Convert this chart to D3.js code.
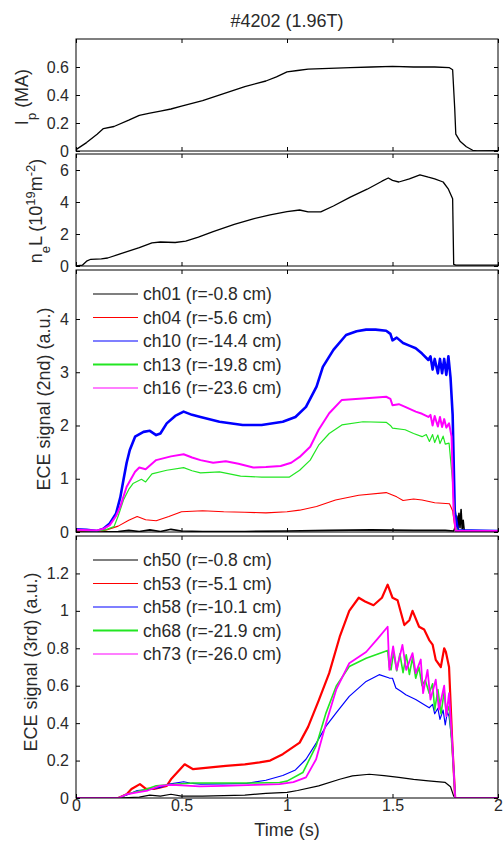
<!DOCTYPE html>
<html>
<head>
<meta charset="utf-8">
<script src="https://cdn.jsdelivr.net/npm/d3@7"></script>
<style>
  body { margin: 0; background: #fff; }
  svg { font-family: "Liberation Sans", Arial, sans-serif; }
</style>
</head>
<body>
<svg id="chart" width="503" height="845"></svg>
<script>
// ---- data: [time (s), value] ----
const ip = [[0,0.01],[0.05,0.06],[0.1,0.12],[0.13,0.16],[0.18,0.175],[0.25,0.22],[0.3,0.255],[0.35,0.27],
  [0.4,0.285],[0.45,0.3],[0.5,0.32],[0.6,0.36],[0.7,0.41],[0.8,0.46],[0.9,0.5],[0.95,0.53],[1.0,0.565],
  [1.05,0.575],[1.1,0.585],[1.2,0.59],[1.3,0.595],[1.4,0.6],[1.5,0.605],[1.6,0.6],[1.7,0.6],[1.77,0.595],
  [1.785,0.58],[1.795,0.3],[1.8,0.12],[1.82,0.07],[1.85,0.03],[1.88,0.005],[1.9,0],[2.0,0.003]];

const neL = [[0,0],[0.03,0.05],[0.05,0.3],[0.07,0.42],[0.12,0.45],[0.15,0.5],[0.22,0.8],[0.3,1.15],
  [0.36,1.45],[0.4,1.5],[0.47,1.47],[0.52,1.55],[0.58,1.8],[0.65,2.15],[0.75,2.6],[0.84,2.95],[0.92,3.2],
  [1.0,3.4],[1.06,3.5],[1.1,3.38],[1.16,3.38],[1.22,3.75],[1.3,4.3],[1.38,4.8],[1.45,5.3],[1.48,5.5],
  [1.5,5.35],[1.53,5.25],[1.58,5.45],[1.63,5.7],[1.67,5.55],[1.7,5.45],[1.74,5.25],[1.765,4.8],
  [1.785,4.2],[1.79,0.1],[1.8,0.05],[2.0,0.05]];

// ECE 2nd harmonic
const ch01 = [[0,0],[0.1,0],[0.2,0.01],[0.25,0.03],[0.3,0.01],[0.35,0.04],[0.4,0.01],[0.45,0.05],[0.5,0.02],
  [0.6,0.01],[0.8,0.01],[1.0,0.02],[1.2,0.03],[1.4,0.04],[1.6,0.03],[1.75,0.03],[1.79,0.02],[1.8,0.12],
  [1.805,0.3],[1.81,0.05],[1.815,0.35],[1.82,0.08],[1.825,0.42],[1.83,0.06],[1.835,0.22],[1.84,0.02],
  [1.9,0],[2.0,0]];
const ch04 = [[0,0],[0.1,0],[0.145,0.04],[0.2,0.11],[0.25,0.22],[0.29,0.29],[0.33,0.23],[0.38,0.21],
  [0.44,0.29],[0.5,0.38],[0.6,0.4],[0.7,0.38],[0.8,0.37],[0.9,0.36],[1.0,0.38],[1.06,0.41],[1.14,0.48],
  [1.23,0.6],[1.34,0.69],[1.47,0.74],[1.52,0.66],[1.55,0.59],[1.6,0.62],[1.64,0.6],[1.7,0.55],[1.77,0.53],
  [1.785,0.4],[1.795,0.1],[1.8,0],[2.0,0]];
const ch10 = [[0,0.05],[0.05,0.04],[0.1,0.02],[0.13,0.06],[0.16,0.16],[0.19,0.35],[0.21,0.65],[0.225,0.98],
  [0.24,1.3],[0.255,1.54],[0.28,1.79],[0.32,1.88],[0.35,1.9],[0.38,1.82],[0.4,1.85],[0.43,2.04],[0.47,2.18],
  [0.51,2.26],[0.55,2.2],[0.59,2.16],[0.68,2.07],[0.79,2.01],[0.88,2.01],[0.98,2.07],[1.04,2.16],[1.09,2.35],
  [1.14,2.73],[1.17,3.1],[1.22,3.42],[1.28,3.7],[1.33,3.77],[1.375,3.8],[1.42,3.8],[1.47,3.78],[1.49,3.72],
  [1.5,3.6],[1.52,3.65],[1.55,3.55],[1.58,3.5],[1.61,3.45],[1.64,3.35],[1.67,3.23],[1.68,3.3],[1.69,3.05],
  [1.7,3.25],[1.715,2.98],[1.725,3.25],[1.735,2.98],[1.745,3.25],[1.755,2.95],[1.765,3.3],[1.775,2.9],
  [1.785,2.2],[1.795,0.4],[1.81,0.03],[2.0,0.02]];
const ch13 = [[0,0.03],[0.1,0.02],[0.14,0.04],[0.18,0.1],[0.2,0.3],[0.225,0.6],[0.25,0.8],[0.27,0.91],
  [0.31,0.99],[0.33,0.94],[0.36,1.09],[0.43,1.16],[0.51,1.21],[0.55,1.15],[0.59,1.11],[0.68,1.13],[0.78,1.05],
  [0.88,1.03],[1.01,1.03],[1.06,1.16],[1.11,1.35],[1.15,1.63],[1.2,1.85],[1.26,2.01],[1.36,2.07],[1.47,2.06],
  [1.49,2.0],[1.5,1.95],[1.56,1.92],[1.6,1.85],[1.64,1.79],[1.66,1.83],[1.675,1.7],[1.69,1.83],[1.7,1.68],
  [1.715,1.82],[1.725,1.66],[1.74,1.8],[1.75,1.65],[1.768,1.67],[1.784,0.98],[1.797,0.1],[1.81,0.02],[2.0,0.02]];
const ch16 = [[0,0.04],[0.1,0.03],[0.13,0.06],[0.16,0.13],[0.19,0.3],[0.21,0.48],[0.24,0.85],[0.28,1.13],
  [0.3,1.21],[0.33,1.18],[0.38,1.35],[0.45,1.42],[0.51,1.46],[0.55,1.4],[0.59,1.35],[0.65,1.3],[0.71,1.33],
  [0.77,1.28],[0.84,1.21],[0.9,1.22],[0.97,1.24],[1.02,1.3],[1.06,1.41],[1.11,1.6],[1.15,1.92],[1.2,2.23],
  [1.26,2.48],[1.375,2.51],[1.47,2.54],[1.49,2.5],[1.5,2.38],[1.53,2.4],[1.56,2.35],[1.61,2.26],[1.64,2.22],
  [1.67,2.16],[1.68,2.2],[1.69,2.0],[1.7,2.18],[1.715,1.98],[1.725,2.16],[1.735,1.97],[1.745,2.12],
  [1.755,1.96],[1.768,2.04],[1.78,1.79],[1.79,0.34],[1.8,0.02],[2.0,0.02]];

// ECE 3rd harmonic
const ch50 = [[0,0],[0.2,0],[0.3,0.005],[0.35,0.015],[0.4,0.01],[0.45,0.02],[0.5,0.01],[0.6,0.01],
  [0.8,0.015],[0.9,0.025],[1.0,0.03],[1.05,0.04],[1.15,0.065],[1.25,0.1],[1.31,0.118],[1.39,0.127],
  [1.46,0.12],[1.53,0.11],[1.6,0.1],[1.67,0.092],[1.75,0.083],[1.775,0.06],[1.79,0.01],[1.8,0],[2.0,0]];
const ch53 = [[0,0],[0.2,0],[0.24,0.02],[0.263,0.048],[0.303,0.074],[0.33,0.05],[0.37,0.048],[0.43,0.065],
  [0.45,0.1],[0.515,0.18],[0.555,0.154],[0.65,0.165],[0.71,0.172],[0.8,0.18],[0.87,0.19],[0.92,0.2],
  [0.98,0.234],[1.06,0.296],[1.1,0.38],[1.15,0.52],[1.2,0.667],[1.25,0.862],[1.295,1.0],[1.34,1.07],
  [1.37,1.05],[1.41,1.03],[1.45,1.07],[1.477,1.14],[1.5,1.07],[1.524,1.057],[1.556,0.924],[1.58,0.95],
  [1.595,1.0],[1.626,0.915],[1.65,0.9],[1.674,0.844],[1.69,0.82],[1.705,0.738],[1.729,0.7],[1.745,0.8],
  [1.753,0.78],[1.768,0.7],[1.784,0.278],[1.797,0],[2.0,0]];
const ch58 = [[0,0],[0.2,0],[0.25,0.02],[0.29,0.04],[0.34,0.045],[0.4,0.057],[0.44,0.074],[0.51,0.087],
  [0.54,0.08],[0.59,0.074],[0.7,0.075],[0.81,0.078],[0.9,0.095],[0.98,0.12],[1.04,0.15],[1.09,0.207],
  [1.14,0.296],[1.185,0.384],[1.233,0.455],[1.295,0.543],[1.375,0.623],[1.437,0.659],[1.485,0.641],
  [1.5,0.64],[1.516,0.588],[1.54,0.57],[1.563,0.552],[1.61,0.526],[1.674,0.482],[1.69,0.5],[1.7,0.45],
  [1.715,0.48],[1.725,0.42],[1.74,0.47],[1.75,0.39],[1.76,0.46],[1.768,0.437],[1.784,0.278],[1.797,0],[2.0,0]];
const ch68 = [[0,0],[0.2,0],[0.24,0.02],[0.29,0.035],[0.33,0.045],[0.38,0.065],[0.45,0.072],[0.555,0.08],
  [0.7,0.08],[0.85,0.08],[0.965,0.083],[1.0,0.09],[1.075,0.136],[1.138,0.278],[1.185,0.455],[1.233,0.597],
  [1.295,0.703],[1.375,0.747],[1.477,0.788],[1.485,0.7],[1.493,0.685],[1.505,0.78],[1.52,0.68],[1.535,0.77],
  [1.55,0.67],[1.565,0.765],[1.58,0.66],[1.595,0.75],[1.61,0.64],[1.625,0.7],[1.64,0.6],[1.655,0.63],
  [1.674,0.56],[1.69,0.61],[1.7,0.47],[1.715,0.58],[1.73,0.45],[1.745,0.57],[1.755,0.45],[1.768,0.49],
  [1.787,0.2],[1.797,0],[2.0,0]];
const ch73 = [[0,0],[0.2,0],[0.24,0.02],[0.29,0.03],[0.34,0.04],[0.397,0.065],[0.45,0.07],[0.5,0.068],
  [0.586,0.062],[0.7,0.065],[0.85,0.07],[0.965,0.074],[1.03,0.085],[1.09,0.11],[1.138,0.207],[1.185,0.4],
  [1.233,0.579],[1.295,0.72],[1.375,0.78],[1.43,0.852],[1.477,0.915],[1.485,0.685],[1.503,0.81],[1.52,0.685],
  [1.547,0.818],[1.565,0.685],[1.595,0.774],[1.61,0.667],[1.634,0.74],[1.645,0.56],[1.666,0.685],[1.68,0.526],
  [1.705,0.632],[1.72,0.473],[1.745,0.6],[1.755,0.437],[1.768,0.56],[1.784,0.28],[1.797,0],[2.0,0]];

const legend2nd = ["ch01 (r=-0.8 cm)", "ch04 (r=-5.6 cm)", "ch10 (r=-14.4 cm)", "ch13 (r=-19.8 cm)", "ch16 (r=-23.6 cm)"];
const legend3rd = ["ch50 (r=-0.8 cm)", "ch53 (r=-5.1 cm)", "ch58 (r=-10.1 cm)", "ch68 (r=-21.9 cm)", "ch73 (r=-26.0 cm)"];
const colors = ["#000000", "#ff0000", "#0000ff", "#22e622", "#ff00ff"];

const xTicks = [0, 0.5, 1, 1.5, 2];
const ipTicks = [0, 0.2, 0.4, 0.6];
const neTicks = [0, 2, 4, 6];
const ece2Ticks = [0, 1, 2, 3, 4];
const ece3Ticks = [0, 0.2, 0.4, 0.6, 0.8, 1, 1.2];

// ---- layout ----
const textColor = "#2a2a2a";
const fmt = d3.format("~g");
const svg = d3.select("#chart");
const x = d3.scaleLinear().domain([0, 2]).range([76, 498]);

const panels = [
  { top: 39, bottom: 151, domain: [0, 0.8], ticks: ipTicks,
    series: [{ data: ip, color: "#000", w: 1.3 }] },
  { top: 154, bottom: 266, domain: [0, 7], ticks: neTicks,
    series: [{ data: neL, color: "#000", w: 1.3 }] },
  { top: 270, bottom: 532, domain: [0, 4.92], ticks: ece2Ticks, legend: legend2nd,
    series: [ch01, ch04, ch10, ch13, ch16].map((d, i) => ({ data: d, color: colors[i], w: [1.6, 1.1, 2.6, 1.2, 2][i] })) },
  { top: 536, bottom: 798, domain: [0, 1.4], ticks: ece3Ticks, legend: legend3rd, xLabels: true,
    series: [ch50, ch53, ch58, ch68, ch73].map((d, i) => ({ data: d, color: colors[i], w: [1.2, 2.2, 1.2, 1.6, 1.8][i] })) }
];

panels.forEach((p, i) => {
  const y = d3.scaleLinear().domain(p.domain).range([p.bottom, p.top]);
  const g = svg.append("g");

  g.append("clipPath").attr("id", "clip" + i)
    .append("rect")
    .attr("x", x(0)).attr("y", p.top)
    .attr("width", x(2) - x(0)).attr("height", p.bottom - p.top);

  const line = d3.line().x(d => x(d[0])).y(d => y(d[1]));
  g.append("g").attr("clip-path", `url(#clip${i})`)
    .selectAll("path")
    .data(p.series)
    .enter()
    .append("path")
    .attr("d", d => line(d.data))
    .attr("fill", "none")
    .attr("stroke", d => d.color)
    .attr("stroke-width", d => d.w)
    .attr("stroke-linejoin", "round");

  // inward ticks on all four sides
  const left = g.append("g").attr("transform", `translate(${x(0)},0)`)
    .call(d3.axisLeft(y).tickValues(p.ticks).tickSize(-4).tickSizeOuter(0).tickPadding(7).tickFormat(fmt));
  const right = g.append("g").attr("transform", `translate(${x(2)},0)`)
    .call(d3.axisRight(y).tickValues(p.ticks).tickSize(-4).tickSizeOuter(0).tickFormat(""));
  const top = g.append("g").attr("transform", `translate(0,${p.top})`)
    .call(d3.axisTop(x).tickValues(xTicks).tickSize(-4).tickSizeOuter(0).tickFormat(""));
  const bottom = g.append("g").attr("transform", `translate(0,${p.bottom})`)
    .call(d3.axisBottom(x).tickValues(xTicks).tickSize(-4).tickSizeOuter(0).tickPadding(2)
      .tickFormat(p.xLabels ? fmt : ""));

  [left, right, top, bottom].forEach(a => {
    a.select(".domain").remove();
    a.selectAll("line").attr("stroke", "#000");
    a.selectAll("text").attr("fill", textColor).style("font-size", "16px");
  });

  g.append("rect")
    .attr("x", x(0)).attr("y", p.top)
    .attr("width", x(2) - x(0)).attr("height", p.bottom - p.top)
    .attr("fill", "none").attr("stroke", "#000").attr("stroke-width", 1);

  if (p.legend) {
    const lg = g.append("g");
    p.legend.forEach((name, k) => {
      const ly = p.top + 24 + k * 23.5;
      lg.append("line").attr("x1", 93).attr("x2", 138).attr("y1", ly).attr("y2", ly)
        .attr("stroke", colors[k]).attr("stroke-width", k === 3 ? 2 : 1.2);
      lg.append("text").attr("x", 143).attr("y", ly).attr("dy", "0.35em")
        .attr("fill", textColor).style("font-size", "17.5px").text(name);
    });
  }
});

// title and axis labels
svg.append("text").attr("x", 287).attr("y", 27).attr("text-anchor", "middle")
  .attr("fill", textColor).style("font-size", "18px").text("#4202 (1.96T)");

svg.append("text").attr("x", 287).attr("y", 836).attr("text-anchor", "middle")
  .attr("fill", textColor).style("font-size", "18px").text("Time (s)");

function yLabel(cx, cy, parts) {
  const t = svg.append("text")
    .attr("transform", `translate(${cx},${cy}) rotate(-90)`)
    .attr("text-anchor", "middle").attr("fill", textColor).style("font-size", "18px");
  parts.forEach(([s, shift]) => {
    const ts = t.append("tspan").text(s);
    if (shift) ts.attr("baseline-shift", shift).style("font-size", "13px");
  });
}
yLabel(28, 97, [["I"], ["p", "sub"], [" (MA)"]]);
yLabel(42, 211, [["n"], ["e", "sub"], ["L (10"], ["19", "super"], ["m"], ["-2", "super"], [")"]]);
yLabel(50, 399, [["ECE signal (2nd) (a.u.)"]]);
yLabel(37, 662, [["ECE signal (3rd) (a.u.)"]]);
</script>
</body>
</html>
